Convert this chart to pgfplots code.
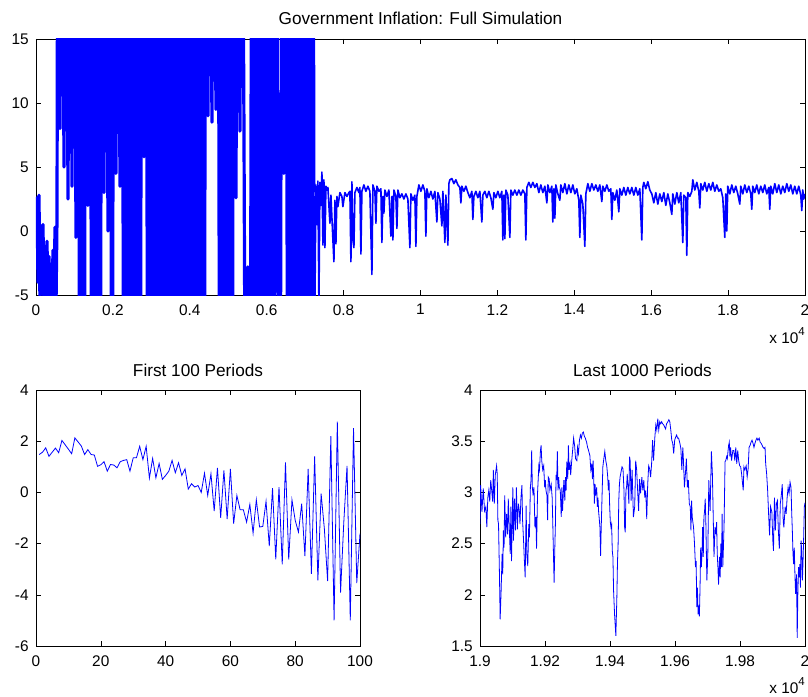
\documentclass[border=0pt]{standalone}
\usepackage{fontspec}
\setmainfont{Liberation Sans}
\usepackage{pgfplots}
\pgfplotsset{compat=1.18}
\definecolor{mblue}{RGB}{0,0,255}
\pgfplotsset{
  mstyle/.style={
    scale only axis, anchor=south west,
    axis line style={line width=0.6pt}, tick style={black, line width=0.5pt},
    major tick length=5pt, tick align=inside,
    scaled x ticks=false, scaled y ticks=false,
    /pgf/number format/assume math mode=true,
    xticklabel style={yshift=-4pt},
    yticklabel style={xshift=-2pt},
    title style={at={(0.5,1)}, anchor=base, yshift=8pt, font=\fontsize{17.2}{20}\selectfont},
    clip=true,
  }
}
\begin{document}
\fontsize{15.4}{18}\selectfont
\begin{tikzpicture}
\path[use as bounding box] (0pt,0pt) rectangle (808pt,-696pt);
% ---------------- top ----------------
\begin{axis}[mstyle, name=top, at={(36pt,-295pt)}, width=769pt, height=256pt,
  xmin=0, xmax=20000, ymin=-5, ymax=15,
  xtick={0,2000,4000,6000,8000,10000,12000,14000,16000,18000,20000},
  xticklabels={0,0.2,0.4,0.6,0.8,1,1.2,1.4,1.6,1.8,2},
  ytick={-5,0,5,10,15}, yticklabels={-5,0,5,10,15},
  title={Government Inflation: Full Simulation}]
\addplot[mblue, line width=3.2pt, line join=round] coordinates {
(0,1.0)(26,2.6)(52,-4.0)(78,2.8)(104,-6)(130,0.4)(156,-3.5)(182,0.5)(208,-6)(234,-1.2)
(260,-4.5)(286,-0.8)(312,-6)(338,-2.0)(364,-6)(390,-2.6)(416,-6)(442,-1.5)(468,-6)(494,0.3)
(520,-6)(546,0.9)(572,40)(624,8)(676,40)(728,5)(780,40)(832,2.5)(884,40)(936,3.5)
(988,40)(1040,-0.5)(1092,40)(1144,-30)(1196,40)(1248,-30)(1300,40)(1352,2)(1404,40)(1456,-30)
(1508,40)(1560,-30)(1612,40)(1664,-30)(1716,40)(1768,3)(1820,40)(1872,0)(1924,40)(1976,-30)
(2028,40)(2080,4.5)(2132,40)(2184,3.5)(2236,40)(2288,-30)(2340,40)(2392,-30)(2444,40)(2496,-30)
(2548,40)(2600,-30)(2652,40)(2704,-30)(2756,40)(2808,5.8)(2860,40)(2912,-30)(2964,40)(3016,-30)
(3068,40)(3120,-30)(3172,40)(3224,-30)(3276,40)(3328,-30)(3380,40)(3432,-30)(3484,40)(3536,-30)
(3588,40)(3640,-30)(3692,40)(3744,-30)(3796,40)(3848,-30)(3900,40)(3952,-30)(4004,40)(4056,-30)
(4108,40)(4160,-30)(4212,40)(4264,-30)(4316,40)(4368,-30)(4420,40)(4472,9)(4524,40)(4576,8.5)
(4628,40)(4680,9.5)(4732,40)(4784,-30)(4836,40)(4888,-30)(4940,40)(4992,-30)(5044,40)(5096,-30)
(5148,40)(5200,2.6)(5252,40)(5304,7.8)(5356,40)(5408,8.5)(5460,-30)(5512,-2.8)(5564,-30)(5616,40)
(5668,-30)(5720,40)(5772,-30)(5824,40)(5876,-30)(5928,40)(5980,-30)(6032,40)(6084,-30)(6136,40)
(6188,-30)(6240,40)(6292,0.3)(6344,-30)(6396,40)(6448,4.5)(6500,40)(6552,-30)(6604,40)(6656,-30)
(6708,40)(6760,-30)(6812,40)(6864,-30)(6916,40)(6968,-30)(7020,40)(7072,-30)(7124,40)(7176,-30)
(7202,40)(7228,3.0)
};
\addplot[mblue, line width=1.6pt, line join=round] coordinates {
(7228,3.0)(7254,-6)(7280,3.6)(7306,0.5)(7332,3.9)(7358,-6)(7384,3.8)(7410,2.0)(7436,4.6)(7462,-1.1)
(7488,4.0)(7514,-1.3)(7540,3.5)(7566,3.2)(7592,3.4)(7644,0.6)(7670,2.8)(7722,-0.7)(7748,-2.4)(7774,2.4)
(7800,-1.0)(7826,2.7)(7852,1.9)(7904,3.0)(7956,2.7)(7982,1.9)(8034,3.0)(8086,2.7)(8138,3.0)(8164,3.1)
(8190,-2.4)(8216,3.85)(8242,-0.7)(8268,-1.3)(8294,3.0)(8346,3.4)(8398,3.0)(8424,3.4)(8450,-1.8)(8476,3.1)
(8528,3.6)(8580,3.1)(8632,3.5)(8684,3.1)(8736,-3.4)(8762,3.6)(8814,3.1)(8840,0.6)(8866,3.5)(8918,3.1)
(8970,3.3)(8996,-0.9)(9022,2.7)(9048,1.4)(9074,3.2)(9126,2.7)(9178,3.2)(9230,-0.4)(9256,2.7)(9282,-0.7)
(9308,3.2)(9360,2.7)(9386,0.2)(9412,3.2)(9464,2.6)(9516,2.9)(9568,2.5)(9620,2.9)(9672,2.5)(9724,-1.3)
(9750,2.9)(9802,2.4)(9854,2.8)(9880,-1.2)(9906,2.7)(9958,3.6)(10010,3.1)(10062,3.6)(10114,3.1)(10140,-0.4)
(10166,3.3)(10218,2.6)(10270,3.1)(10322,2.5)(10374,3.1)(10426,0.7)(10452,3.0)(10504,2.5)(10556,0.4)(10582,3.1)
(10634,-0.9)(10660,2.8)(10712,-1.1)(10738,3.7)(10764,4.0)(10816,4.1)(10868,3.7)(10920,4.0)(10972,3.6)(11024,3.4)
(11050,2.2)(11076,3.5)(11128,3.1)(11180,3.5)(11232,3.0)(11284,2.6)(11336,3.1)(11362,0.9)(11388,2.7)(11440,3.1)
(11492,2.6)(11544,3.1)(11596,0.7)(11622,2.8)(11674,3.1)(11726,2.6)(11778,3.1)(11830,2.6)(11882,1.7)(11908,3.0)
(11960,2.6)(12012,3.1)(12064,2.6)(12116,3.1)(12142,-0.7)(12168,2.8)(12194,-0.6)(12220,3.2)(12272,2.8)(12324,-0.5)
(12350,3.2)(12402,2.8)(12454,3.2)(12506,2.8)(12558,3.2)(12610,2.8)(12662,3.2)(12714,2.9)(12740,-0.7)(12766,3.4)
(12818,3.8)(12870,3.4)(12922,3.8)(12974,3.4)(13026,3.7)(13078,3.0)(13130,3.6)(13182,3.0)(13234,3.5)(13286,2.2)
(13312,3.6)(13364,3.0)(13416,3.5)(13442,0.7)(13468,3.3)(13494,1.0)(13520,3.6)(13572,2.9)(13624,2.4)(13650,3.6)
(13702,3.0)(13754,3.7)(13806,2.9)(13858,3.6)(13910,3.0)(13962,3.6)(14014,2.9)(14066,3.3)(14118,2.4)(14144,-0.5)
(14170,2.8)(14222,2.1)(14274,-1.2)(14300,2.9)(14352,3.7)(14404,3.1)(14456,3.7)(14508,3.2)(14560,3.6)(14612,3.1)
(14664,3.6)(14716,2.3)(14742,3.5)(14794,3.1)(14846,3.6)(14898,3.1)(14950,3.3)(14976,0.9)(15002,3.0)(15054,2.4)
(15106,3.2)(15158,1.5)(15184,3.3)(15236,2.8)(15288,3.4)(15340,2.8)(15392,3.4)(15444,2.9)(15496,3.4)(15548,2.8)
(15600,3.4)(15652,2.8)(15704,3.3)(15756,-0.7)(15782,3.4)(15808,3.8)(15860,3.3)(15912,3.85)(15964,3.2)(16016,2.9)
(16068,2.2)(16120,3.0)(16172,2.1)(16224,2.9)(16276,2.3)(16328,3.0)(16380,2.0)(16432,2.9)(16484,2.2)(16536,1.3)
(16562,2.9)(16614,2.1)(16666,3.0)(16718,2.2)(16770,3.0)(16822,-0.9)(16848,2.8)(16900,2.6)(16926,-1.9)(16952,3.0)
(17004,2.7)(17056,3.1)(17082,4.0)(17134,3.2)(17186,3.8)(17238,3.1)(17264,1.8)(17290,3.7)(17342,3.2)(17394,3.8)
(17446,3.1)(17498,3.7)(17550,3.2)(17602,3.8)(17654,3.1)(17706,3.6)(17758,3.1)(17810,3.3)(17862,2.6)(17914,-0.5)
(17940,2.9)(17966,0.0)(17992,3.5)(18044,2.9)(18096,3.6)(18148,3.0)(18200,3.5)(18252,2.9)(18304,2.1)(18330,3.5)
(18382,2.9)(18434,3.6)(18486,3.0)(18538,3.5)(18590,2.9)(18616,1.7)(18642,3.5)(18694,3.0)(18746,3.6)(18798,2.9)
(18850,3.5)(18902,3.0)(18954,3.6)(19006,2.9)(19058,3.4)(19084,1.7)(19110,3.5)(19162,2.9)(19214,3.7)(19266,3.0)
(19318,3.6)(19370,2.9)(19422,3.5)(19474,3.0)(19526,3.7)(19578,3.1)(19630,3.6)(19682,2.9)(19734,3.5)(19786,2.9)
(19838,3.5)(19890,2.8)(19916,1.6)(19942,3.2)(19968,2.5)(20000,2.9)
};
\end{axis}
\node[anchor=base east, inner sep=0pt] at ([yshift=-48pt]top.south east) {x 10\raisebox{8pt}{\fontsize{11.5}{12}\selectfont 4}};
% ---------------- bottom left ----------------
\begin{axis}[mstyle, name=bl, at={(36pt,-646pt)}, width=324pt, height=256pt,
  xmin=0, xmax=100, ymin=-6, ymax=4,
  xtick={0,20,40,60,80,100}, xticklabels={0,20,40,60,80,100},
  ytick={-6,-4,-2,0,2,4}, yticklabels={-6,-4,-2,0,2,4},
  title={First 100 Periods}]
\addplot[mblue, line width=0.8pt] coordinates {
(1,1.48)(2,1.57)(3,1.74)(4,1.41)(5,1.57)(6,1.73)(7,1.55)(8,2.03)(9,1.86)(10,1.69)
(11,1.51)(12,2.13)(13,1.97)(14,1.81)(15,1.48)(16,1.67)(17,1.48)(18,1.46)(19,1.02)(20,1.08)
(21,1.20)(22,0.83)(23,1.09)(24,1.07)(25,0.96)(26,1.20)(27,1.25)(28,1.28)(29,0.83)(30,1.35)
(31,1.35)(32,1.80)(33,1.28)(34,1.80)(35,0.56)(36,1.33)(37,0.57)(38,1.13)(39,0.51)(40,0.66)
(41,0.83)(42,1.25)(43,0.77)(44,1.16)(45,0.66)(46,0.92)(47,0.13)(48,0.34)(49,0.21)(50,0.27)
(51,0.00)(52,0.75)(53,-0.12)(54,0.73)(55,-0.73)(56,0.96)(57,-0.99)(58,0.86)(59,-1.04)(60,0.92)
(61,-1.22)(62,-0.12)(63,-0.68)(64,-0.68)(65,-1.16)(66,-0.47)(67,-1.59)(68,-0.29)(69,-1.35)(70,-1.33)
(71,-0.35)(72,-2.10)(73,0.17)(74,-2.62)(75,0.21)(76,-2.81)(77,1.17)(78,-2.62)(79,-0.29)(80,-1.09)
(81,-1.55)(82,-0.44)(83,-2.49)(84,0.92)(85,-3.18)(86,1.41)(87,-3.44)(88,-0.05)(89,-1.42)(90,-3.46)
(91,2.20)(92,-5.00)(93,2.76)(94,-3.91)(95,-1.16)(96,1.04)(97,-5.00)(98,2.51)(99,-3.54)(100,-1.61)
};
\end{axis}
% ---------------- bottom right ----------------
\begin{axis}[mstyle, name=br, at={(480pt,-646pt)}, width=325pt, height=256pt,
  xmin=19000, xmax=20000, ymin=1.5, ymax=4,
  xtick={19000,19200,19400,19600,19800,20000}, xticklabels={1.9,1.92,1.94,1.96,1.98,2},
  ytick={1.5,2,2.5,3,3.5,4}, yticklabels={1.5,2,2.5,3,3.5,4},
  title={Last 1000 Periods}]
\addplot[mblue, line width=0.8pt] coordinates {
(19000,2.69)(19002,3.07)(19006,2.81)(19010,3.04)(19014,2.82)(19018,2.86)(19021,2.66)(19024,2.95)(19027,3.02)(19030,2.91)
(19033,3.12)(19036,3.02)(19039,2.91)(19041,3.22)(19044,2.89)(19047,3.17)(19051,3.26)(19053,3.18)(19055,2.73)(19057,2.69)
(19060,2.17)(19062,1.76)(19065,2.04)(19068,2.40)(19070,2.20)(19072,2.63)(19074,2.46)(19076,2.97)(19079,2.56)(19082,2.79)
(19085,2.59)(19087,2.94)(19090,2.66)(19093,2.40)(19095,2.86)(19097,2.33)(19101,3.05)(19103,2.53)(19106,2.94)(19109,2.63)
(19112,3.05)(19115,2.64)(19118,2.89)(19121,2.82)(19123,2.69)(19126,2.95)(19129,3.07)(19131,2.73)(19134,2.53)(19136,2.37)
(19139,2.17)(19142,2.87)(19144,2.40)(19147,2.28)(19150,2.69)(19152,2.56)(19155,3.05)(19157,3.12)(19159,3.41)(19161,3.05)
(19163,2.99)(19166,3.05)(19169,2.66)(19172,2.76)(19174,2.45)(19177,2.99)(19181,3.26)(19183,3.22)(19186,3.41)(19188,3.46)
(19190,3.31)(19193,3.22)(19196,3.26)(19199,3.05)(19201,3.12)(19203,3.02)(19206,2.97)(19208,2.73)(19210,3.15)(19213,3.13)
(19215,3.02)(19219,3.08)(19222,2.95)(19224,2.69)(19226,2.40)(19228,2.12)(19230,2.43)(19232,2.69)(19234,3.17)(19236,3.12)
(19238,3.40)(19240,3.02)(19242,3.15)(19244,3.05)(19247,3.02)(19250,2.76)(19252,3.05)(19254,2.82)(19258,3.12)(19261,2.92)
(19263,3.15)(19265,3.02)(19267,3.30)(19270,3.13)(19272,3.46)(19274,3.22)(19277,3.28)(19279,3.17)(19282,3.30)(19285,3.41)
(19288,3.53)(19291,3.46)(19294,3.33)(19298,3.31)(19300,3.44)(19303,3.38)(19306,3.51)(19309,3.56)(19312,3.53)(19315,3.58)
(19318,3.59)(19321,3.55)(19324,3.53)(19328,3.49)(19331,3.44)(19334,3.41)(19338,3.36)(19341,3.22)(19344,3.28)(19346,3.13)
(19348,3.31)(19350,3.12)(19352,2.89)(19354,3.08)(19356,2.97)(19359,3.05)(19361,2.86)(19363,2.95)(19365,2.81)(19367,2.74)
(19369,2.66)(19371,2.38)(19373,2.66)(19376,3.02)(19378,3.25)(19381,3.33)(19384,3.40)(19387,3.31)(19390,3.26)(19393,3.15)
(19395,3.02)(19397,3.12)(19399,2.86)(19401,2.71)(19403,2.66)(19405,2.69)(19407,2.43)(19409,2.37)(19411,2.04)(19414,1.81)
(19418,1.60)(19421,1.96)(19423,2.32)(19425,2.50)(19427,2.92)(19429,3.08)(19431,3.15)(19434,3.20)(19437,3.25)(19440,3.23)
(19443,3.02)(19445,2.66)(19447,2.61)(19449,3.02)(19451,3.05)(19453,3.18)(19456,3.02)(19458,2.89)(19460,3.35)(19462,3.31)
(19465,2.92)(19468,3.22)(19472,2.76)(19476,2.86)(19479,3.31)(19482,3.22)(19485,3.02)(19488,2.82)(19491,3.13)(19494,2.99)
(19498,3.15)(19501,3.02)(19504,3.12)(19507,2.95)(19510,3.02)(19513,2.74)(19516,3.08)(19519,3.26)(19522,3.23)(19525,3.15)
(19528,3.28)(19531,3.51)(19534,3.31)(19538,3.54)(19541,3.66)(19544,3.61)(19547,3.72)(19550,3.61)(19553,3.69)(19556,3.67)
(19559,3.69)(19562,3.67)(19565,3.66)(19568,3.64)(19571,3.62)(19574,3.67)(19578,3.69)(19581,3.71)(19584,3.69)(19587,3.61)
(19590,3.51)(19593,3.48)(19596,3.38)(19599,3.51)(19602,3.54)(19605,3.56)(19608,3.53)(19611,3.53)(19615,3.48)(19618,3.43)
(19621,3.22)(19624,3.44)(19626,3.31)(19629,3.05)(19632,3.18)(19635,3.33)(19638,3.05)(19641,3.12)(19644,2.89)(19647,2.86)
(19649,2.63)(19651,2.92)(19653,2.76)(19657,2.66)(19660,2.50)(19663,2.27)(19665,2.33)(19667,1.88)(19669,2.07)(19671,1.81)
(19673,1.86)(19675,1.79)(19677,2.07)(19679,2.46)(19681,2.27)(19683,2.40)(19685,2.66)(19687,2.37)(19689,2.76)(19691,2.82)
(19693,2.94)(19695,2.69)(19698,2.14)(19701,2.40)(19704,3.12)(19706,2.95)(19708,2.82)(19710,3.12)(19712,3.40)(19715,3.18)
(19717,2.86)(19720,2.37)(19723,2.66)(19726,2.59)(19728,2.71)(19730,2.40)(19732,2.27)(19734,2.10)(19737,2.37)(19739,2.17)
(19741,2.50)(19743,2.27)(19745,2.79)(19747,2.27)(19749,2.46)(19751,2.69)(19754,3.30)(19756,3.31)(19759,3.35)(19761,3.33)
(19763,3.40)(19765,3.46)(19767,3.49)(19769,3.35)(19771,3.44)(19774,3.31)(19778,3.41)(19781,3.41)(19784,3.31)(19787,3.44)
(19790,3.28)(19793,3.41)(19796,3.31)(19799,3.26)(19802,3.25)(19805,3.18)(19808,3.08)(19810,3.02)(19812,3.25)(19815,3.22)
(19819,3.26)(19822,3.15)(19825,3.23)(19828,3.44)(19831,3.46)(19834,3.49)(19837,3.51)(19840,3.48)(19843,3.44)(19846,3.48)
(19849,3.51)(19852,3.53)(19855,3.51)(19859,3.53)(19862,3.49)(19865,3.48)(19868,3.46)(19871,3.44)(19874,3.43)(19877,3.44)
(19879,3.28)(19882,3.18)(19885,3.02)(19888,2.79)(19891,2.58)(19894,2.86)(19898,2.81)(19901,2.53)(19903,2.43)(19906,2.95)
(19909,2.63)(19912,2.89)(19915,2.92)(19918,2.63)(19921,2.45)(19924,2.89)(19927,2.97)(19930,3.08)(19933,2.71)(19935,2.66)
(19939,2.86)(19942,2.79)(19945,2.95)(19948,3.05)(19951,2.99)(19954,3.10)(19957,3.05)(19959,2.81)(19961,2.63)(19963,2.40)
(19965,2.30)(19967,2.46)(19969,2.20)(19971,2.01)(19974,2.20)(19976,1.58)(19978,2.01)(19980,2.27)(19982,2.17)(19984,2.30)
(19986,2.07)(19988,2.53)(19990,2.40)(19992,2.14)(19994,2.33)(19996,2.58)(19998,2.86)(20000,2.90)
};
\end{axis}
\node[anchor=base east, inner sep=0pt] at ([yshift=-47pt]br.south east) {x 10\raisebox{8pt}{\fontsize{11.5}{12}\selectfont 4}};
\end{tikzpicture}
\end{document}
